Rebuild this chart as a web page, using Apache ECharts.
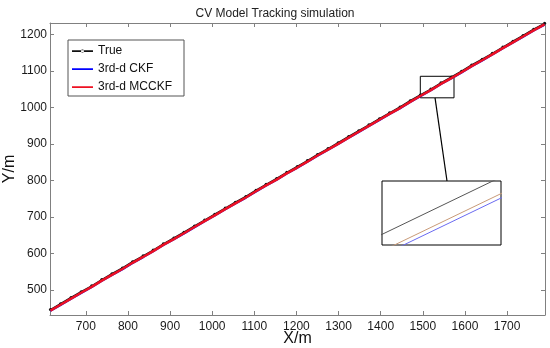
<!DOCTYPE html>
<html><head><meta charset="utf-8">
<script src="https://cdn.jsdelivr.net/npm/echarts@6/dist/echarts.min.js"></script>
<style>html,body{margin:0;padding:0;background:#fff}#c{width:550px;height:348px}</style>
</head><body><div id="c"></div>
<script>
// ---- data ----
var title = 'CV Model Tracking simulation';
var seriesNames = ['True', '3rd-d CKF', '3rd-d MCCKF'];
var xs = [616,640,665,689,714,738,762,787,811,836,860,884,909,933,958,982,1006,1031,1055,1080,1104,1128,1153,1177,1202,1226,1250,1275,1299,1324,1348,1372,1397,1421,1446,1470,1494,1519,1543,1568,1592,1616,1641,1665,1690,1714,1738,1763,1789];
var yTrue = [447,463,480,496,512,529,545,561,578,594,610,627,643,659,676,692,708,725,741,757,774,790,806,823,839,855,872,888,904,921,937,953,970,986,1002,1019,1035,1051,1068,1084,1100,1117,1133,1149,1166,1182,1198,1215,1231];
var yCKF = [443.2,459.2,476.2,492.2,508.2,525.2,541.2,557.2,574.2,590.2,606.2,623.2,639.2,655.2,672.2,688.2,704.2,721.2,737.2,753.2,770.2,786.2,802.2,819.2,835.2,851.2,868.2,884.2,900.2,917.2,933.2,949.2,966.2,982.2,998.2,1015.2,1031.2,1047.2,1064.2,1080.2,1096.2,1113.2,1129.2,1145.2,1162.2,1178.2,1194.2,1211.2,1227.2];
var yMCCKF = [444,460,477,493,509,526,542,558,575,591,607,624,640,656,673,689,705,722,738,754,771,787,803,820,836,852,869,885,901,918,934,950,967,983,999,1016,1032,1048,1065,1081,1097,1114,1130,1146,1163,1179,1195,1212,1228];
var xTicks = [700,800,900,1000,1100,1200,1300,1400,1500,1600,1700];
var yTicks = [500,600,700,800,900,1000,1100,1200];
var xRange = [615, 1790];
var yRange = [432, 1232];
var zoomBoxX = [1494, 1574];
var zoomBoxY = [1027, 1086];
var insetX = [1497, 1513.2];
var insetY = [1035, 1046.57];

function pairs(x, y){ return x.map(function(v,i){ return [v, y[i]]; }); }

var G = {left:50, top:23, right:545, bottom:315};
var INSET = {left:382, top:181, width:119, height:64};
var font = 'Liberation Sans, Arial, sans-serif';
var axisGray = '#808080';

var chart = echarts.init(document.getElementById('c'), null, {renderer:'canvas'});

function frameAxis(pos, range, ticks, showLabel){
  return {
    type:'value', position:pos, min:range[0], max:range[1], gridIndex:0,
    nameMoveOverlap:false,
    axisLine:{show:true, onZero:false, lineStyle:{color:axisGray, width:1}},
    axisTick:{show:true, inside:true, length:4, customValues:ticks, lineStyle:{color:axisGray}},
    axisLabel:{show:showLabel, customValues:ticks, color:'#1a1a1a', fontSize:12, fontFamily:font, margin:5,
      formatter:function(v){ return String(v); }},
    splitLine:{show:false}
  };
}

var xAxes = [frameAxis('bottom',xRange,xTicks,true), frameAxis('top',xRange,xTicks,false),
  {type:'value', gridIndex:1, min:insetX[0], max:insetX[1], show:false}];
xAxes[0].name = 'X/m'; xAxes[0].nameLocation='middle'; xAxes[0].nameGap=16;
xAxes[0].nameTextStyle = {fontSize:16, fontFamily:font, color:'#111', verticalAlign:'top'};
xAxes[0].axisLabel.margin = 6;

var yAxes = [frameAxis('left',yRange,yTicks,true), frameAxis('right',yRange,yTicks,false),
  {type:'value', gridIndex:1, min:insetY[0], max:insetY[1], show:false}];
yAxes[0].name = 'Y/m'; yAxes[0].nameLocation='middle'; yAxes[0].nameGap=40;
yAxes[0].nameTextStyle = {fontSize:16, fontFamily:font, color:'#111', verticalAlign:'middle'};
yAxes[0].axisLabel.margin = 3;

var lineIcon = 'path://M0,0h0.01v0.01h-0.01z M21,12h0.01v0.01h-0.01z M0,5.3h21v1.6h-21z';
var trueIcon = 'path://M0,0h0.01v0.01h-0.01z M21,12h0.01v0.01h-0.01z M0,5.3h21v1.6h-21z M9,6a1.5,1.5 0 1,0 3,0a1.5,1.5 0 1,0 -3,0z';

var option = {
  animation:false,
  backgroundColor:'#fff',
  title:{text:title, left:'center', top:3, textStyle:{fontSize:12, fontWeight:'normal', color:'#222', fontFamily:font}},
  grid:[
    {left:G.left, top:G.top, width:G.right-G.left, height:G.bottom-G.top, containLabel:false, outerBoundsMode:'none'},
    {left:INSET.left, top:INSET.top, width:INSET.width, height:INSET.height, show:true, backgroundColor:'#fff', borderColor:'#000', borderWidth:1, z:5, outerBoundsMode:'none'}
  ],
  legend:{
    data:[{name:seriesNames[0], icon:trueIcon},{name:seriesNames[1], icon:lineIcon},{name:seriesNames[2], icon:lineIcon}],
    orient:'vertical', left:68, top:40,
    padding:[5,12,3,4], itemGap:6, itemWidth:21, itemHeight:12,
    backgroundColor:'#fff', borderColor:'#555', borderWidth:1, borderRadius:0,
    textStyle:{fontSize:12, fontFamily:font, color:'#111'}
  },
  xAxis:xAxes,
  yAxis:yAxes,
  series:[
    {name:seriesNames[0], type:'line', data:pairs(xs,yTrue), xAxisIndex:0, yAxisIndex:0,
     symbol:'circle', symbolSize:3, showSymbol:true, color:'#111',
     lineStyle:{color:'#111', width:1.5}, itemStyle:{color:'#111'}, z:2},
    {name:seriesNames[1], type:'line', data:pairs(xs,yCKF), xAxisIndex:0, yAxisIndex:0,
     symbol:'none', color:'#0000ff', lineStyle:{color:'#0000ff', width:2}, z:3},
    {name:seriesNames[2], type:'line', data:pairs(xs,yMCCKF), xAxisIndex:0, yAxisIndex:0,
     symbol:'none', color:'#ee1122', lineStyle:{color:'#ee1122', width:2.5}, z:4,
     markArea:{silent:true, itemStyle:{color:'rgba(0,0,0,0)', borderColor:'#000', borderWidth:1},
       data:[[{coord:[zoomBoxX[0], zoomBoxY[1]]},{coord:[zoomBoxX[1], zoomBoxY[0]]}]]}},
    {name:'inset-true', type:'line', data:pairs(xs,yTrue), xAxisIndex:2, yAxisIndex:2, symbol:'none', clip:true,
     lineStyle:{color:'#555', width:1}, z:6},
    {name:'inset-mcckf', type:'line', data:pairs(xs,yMCCKF), xAxisIndex:2, yAxisIndex:2, symbol:'none', clip:true,
     lineStyle:{color:'#c89a78', width:1}, z:6},
    {name:'inset-ckf', type:'line', data:pairs(xs,yCKF), xAxisIndex:2, yAxisIndex:2, symbol:'none', clip:true,
     lineStyle:{color:'#6a6af0', width:1}, z:6}
  ]
};
chart.setOption(option);

var p0 = chart.convertToPixel({xAxisIndex:0, yAxisIndex:0}, [(zoomBoxX[0]+zoomBoxX[1])/2 - 5, zoomBoxY[0]]);
chart.setOption({graphic:[{type:'line', z:10, shape:{x1:p0[0], y1:p0[1], x2:INSET.left+65, y2:INSET.top}, style:{stroke:'#000', lineWidth:1.2}}]});
</script>
</body></html>
